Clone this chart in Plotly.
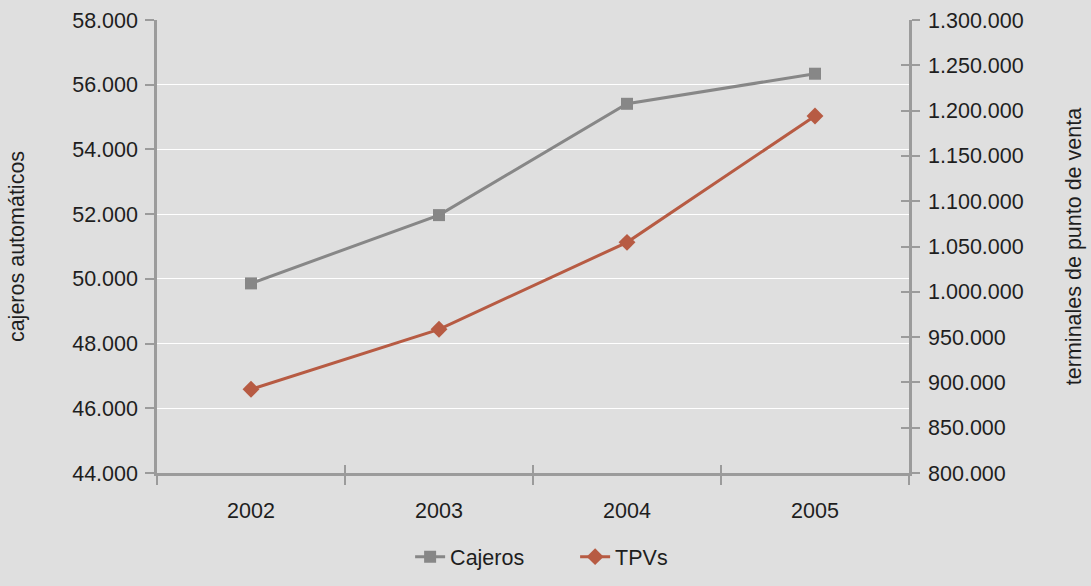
import plotly.graph_objects as go

# Yearly counts of ATMs (left axis) and POS terminals (right axis)
years = ["2002", "2003", "2004", "2005"]
cajeros = [49860, 51970, 55410, 56340]
tpvs = [892400, 958600, 1054600, 1194000]

left_range = [44000, 58000]
right_range = [800000, 1300000]

BG = "#dfdfdf"
AXIS = "#9b9b9b"
TEXT = "#1e1e1e"
GRAY = "#878787"
RED = "#b75b43"
FONT = "Liberation Sans"
FS = 21.5

fig = go.Figure()

fig.add_trace(go.Scatter(
    x=years, y=cajeros, name="Cajeros", mode="lines+markers",
    line=dict(color=GRAY, width=3),
    marker=dict(symbol="square", size=12, color=GRAY),
    xaxis="x", yaxis="y",
))
fig.add_trace(go.Scatter(
    x=years, y=tpvs, name="TPVs", mode="lines+markers",
    line=dict(color=RED, width=3),
    marker=dict(symbol="diamond", size=13, color=RED),
    xaxis="x", yaxis="y2",
))
# transparent copy that carries the overlay axes drawing the inner tick halves
fig.add_trace(go.Scatter(
    x=years, y=tpvs, mode="lines", opacity=0, showlegend=False,
    hoverinfo="skip", xaxis="x2", yaxis="y3",
))

fig.update_layout(
    width=1091, height=586,
    margin=dict(l=157, r=182, t=20, b=113, autoexpand=False),
    paper_bgcolor=BG, plot_bgcolor=BG,
    separators=",.",
    font=dict(family=FONT, size=FS, color=TEXT),
    showlegend=True,
    legend=dict(
        orientation="h", x=0.556, xanchor="center",
        yref="container", y=0.05, yanchor="middle",
        bgcolor="rgba(0,0,0,0)", font=dict(size=FS, color=TEXT),
        itemwidth=30, entrywidth=120, entrywidthmode="pixels",
    ),
    xaxis=dict(
        type="category", range=[-0.5, 3.5],
        showline=True, linecolor=AXIS, linewidth=2.5,
        ticks="outside", tickson="boundaries", ticklen=9, tickwidth=2, tickcolor=AXIS,
        showgrid=False, zeroline=False,
        tickfont=dict(size=FS, color=TEXT), ticklabelstandoff=16,
    ),
    xaxis2=dict(
        type="category", overlaying="x", anchor="y", side="bottom",
        range=[-0.5, 3.5], tickson="boundaries",
        ticks="inside", ticklen=8, tickwidth=2, tickcolor=AXIS,
        showticklabels=False, showline=False, showgrid=False, zeroline=False,
    ),
    yaxis=dict(
        range=left_range, dtick=2000, tickformat=",",
        showline=True, linecolor=AXIS, linewidth=2.5,
        ticks="outside", ticklen=9, tickwidth=2, tickcolor=AXIS,
        showgrid=True, gridcolor="#ffffff", gridwidth=1, zeroline=False,
        tickfont=dict(size=FS, color=TEXT), ticklabelstandoff=3,
        title=dict(text="cajeros automáticos", font=dict(size=FS, color=TEXT), standoff=42),
    ),
    yaxis2=dict(
        overlaying="y", side="right", anchor="x",
        range=right_range, dtick=50000, tickformat=",",
        showline=True, linecolor=AXIS, linewidth=2.5,
        ticks="outside", ticklen=8, tickwidth=2, tickcolor=AXIS,
        showgrid=False, zeroline=False,
        tickfont=dict(size=FS, color=TEXT), ticklabelstandoff=4,
        title=dict(text="terminales de punto de venta", font=dict(size=FS, color=TEXT), standoff=44),
    ),
    yaxis3=dict(
        overlaying="y", side="right", anchor="x2",
        range=right_range, dtick=50000,
        ticks="inside", ticklen=8, tickwidth=2, tickcolor=AXIS,
        showticklabels=False, showline=False, showgrid=False, zeroline=False,
    ),
)

fig.write_html("out.html")
